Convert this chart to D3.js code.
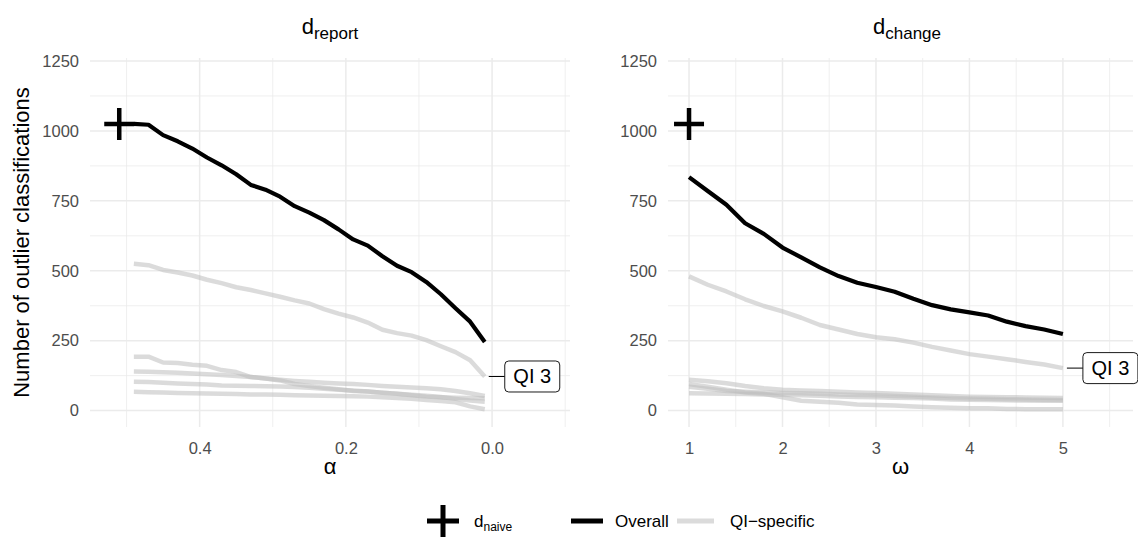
<!DOCTYPE html>
<html><head><meta charset="utf-8">
<script src="https://cdn.jsdelivr.net/npm/d3@7"></script>
<style>
body{margin:0;background:#fff}
svg{display:block}
text{font-family:"Liberation Sans",Arial,Helvetica,sans-serif}
</style>
</head><body>
<svg id="chart" width="1138" height="543"></svg>
<script>
// ---------- data ----------
const alphaValues = [0.49,0.47,0.45,0.43,0.41,0.39,0.37,0.35,0.33,0.31,0.29,0.27,0.25,0.23,0.21,0.19,0.17,0.15,0.13,0.11,0.09,0.07,0.05,0.03,0.01];
const reportOverall = [1025,1022,985,963,937,905,877,845,807,790,765,731,708,681,648,612,590,552,518,495,460,416,366,318,245];
const reportQI3 = [525,520,503,494,483,468,456,441,431,419,407,394,383,363,347,333,315,289,277,268,252,230,209,180,122];
const reportQI1 = [193,193,172,170,164,160,145,138,120,115,108,95,88,82,76,70,68,64,60,55,50,48,46,45,44];
const reportQI2 = [140,139,137,135,133,130,127,124,120,115,110,106,103,100,97,95,92,88,85,83,80,76,70,62,52];
const reportQI4 = [103,102,100,97,95,93,90,89,88,87,86,84,82,78,75,72,68,64,60,57,53,49,42,36,32];
const reportQI5 = [67,66,65,63,62,61,60,59,58,58,57,55,54,53,52,51,50,48,45,42,38,34,30,15,5];

const omegaValues = [1.0,1.2,1.4,1.6,1.8,2.0,2.2,2.4,2.6,2.8,3.0,3.2,3.4,3.6,3.8,4.0,4.2,4.4,4.6,4.8,5.0];
const changeOverall = [835,785,736,670,632,583,548,512,481,457,442,425,400,377,362,351,340,318,302,290,274];
const changeQI3 = [480,450,426,398,374,355,332,306,290,274,262,255,243,228,215,202,193,184,174,165,152];
const changeQI1 = [110,105,98,88,80,75,72,70,67,65,63,60,58,55,52,50,49,48,47,46,45];
const changeQI2 = [95,85,75,65,60,48,35,32,28,22,20,18,15,12,10,8,8,6,5,5,5];
const changeQI4 = [85,78,70,67,65,63,62,60,58,56,55,52,50,47,45,43,42,41,40,39,38];
const changeQI5 = [62,61,60,59,58,57,55,53,50,49,48,46,45,43,40,39,38,37,36,35,35];

const naiveCount = 1025;
const naiveAlpha = 0.51;
const naiveOmega = 1.0;

const yTicks = [0,250,500,750,1000,1250];
const yMinorTicks = [125,375,625,875,1125];
const alphaTicks = [0.4,0.2,0.0];
const alphaMinorTicks = [0.5,0.3,0.1,-0.1];
const omegaTicks = [1,2,3,4,5];
const omegaMinorTicks = [1.5,2.5,3.5,4.5,5.5];
const labelText = "QI 3";

// ---------- layout ----------
const svg = d3.select("#chart");
const panelTop = 58, panelBottom = 427;
const yDomain = [-58.6, 1260.7];
const GRID = "#ebebeb";
const GRAY = "#bdbdbd";
const TICK_COLOR = "#4d4d4d";

function subText(sel, main, sub, mainSize, subSize, shift) {
  sel.append("tspan").text(main).attr("font-size", mainSize);
  sel.append("tspan").text(sub).attr("font-size", subSize).attr("dy", shift);
}

function drawPanel(cfg) {
  const g = svg.append("g");
  const x = d3.scaleLinear().domain(cfg.xDomain).range([cfg.left, cfg.right]);
  const y = d3.scaleLinear().domain(yDomain).range([panelBottom, panelTop]);

  // grid
  g.selectAll(".xm").data(cfg.xMinor).join("line")
    .attr("x1", d => x(d)).attr("x2", d => x(d)).attr("y1", panelTop).attr("y2", panelBottom)
    .attr("stroke", GRID).attr("stroke-width", 0.8);
  g.selectAll(".ym").data(yMinorTicks).join("line")
    .attr("x1", cfg.left).attr("x2", cfg.right).attr("y1", d => y(d)).attr("y2", d => y(d))
    .attr("stroke", GRID).attr("stroke-width", 0.8);
  g.selectAll(".xM").data(cfg.xTicks).join("line")
    .attr("x1", d => x(d)).attr("x2", d => x(d)).attr("y1", panelTop).attr("y2", panelBottom)
    .attr("stroke", GRID).attr("stroke-width", 1.5);
  g.selectAll(".yM").data(yTicks).join("line")
    .attr("x1", cfg.left).attr("x2", cfg.right).attr("y1", d => y(d)).attr("y2", d => y(d))
    .attr("stroke", GRID).attr("stroke-width", 1.5);

  // axes
  const yAxis = g.append("g").attr("transform", `translate(${cfg.left},0)`)
    .call(d3.axisLeft(y).tickValues(yTicks).tickSize(0).tickPadding(11).tickFormat(d3.format("d")));
  const xAxis = g.append("g").attr("transform", `translate(0,${panelBottom})`)
    .call(d3.axisBottom(x).tickValues(cfg.xTicks).tickSize(0).tickPadding(15).tickFormat(cfg.fmt));
  [xAxis, yAxis].forEach(a => {
    a.select(".domain").remove();
    a.selectAll("text").attr("fill", TICK_COLOR).attr("font-size", 16.5)
      .attr("font-family", '"Liberation Sans",Arial,sans-serif');
  });

  // lines
  const line = d3.line().x(d => x(d[0])).y(d => y(d[1]));
  cfg.qi.forEach(s => {
    g.append("path").datum(cfg.xs.map((v, i) => [v, s[i]])).attr("d", line)
      .attr("fill", "none").attr("stroke", GRAY).attr("stroke-opacity", 0.55)
      .attr("stroke-width", 4.5).attr("stroke-linejoin", "round");
  });
  g.append("path").datum(cfg.xs.map((v, i) => [v, cfg.overall[i]])).attr("d", line)
    .attr("fill", "none").attr("stroke", "#000").attr("stroke-width", 4.2)
    .attr("stroke-linejoin", "round");

  // naive plus
  const px = x(cfg.naiveX), py = y(naiveCount);
  g.append("path").attr("d", `M${px-15},${py}H${px+15}M${px},${py-16}V${py+16}`)
    .attr("stroke", "#000").attr("stroke-width", 4.5).attr("fill", "none");

  // QI 3 label
  const lx = x(cfg.xs[cfg.xs.length - 1]), ly = y(cfg.labelSeries[cfg.labelSeries.length - 1]);
  g.append("line").attr("x1", lx + 4).attr("x2", lx + 20).attr("y1", ly).attr("y2", ly)
    .attr("stroke", "#000").attr("stroke-width", 1);
  const bw = 55, bh = 31;
  g.append("rect").attr("x", lx + 20).attr("y", ly - bh / 2).attr("width", bw).attr("height", bh)
    .attr("rx", 4).attr("fill", "#fff").attr("stroke", "#000").attr("stroke-width", 0.9);
  g.append("text").attr("x", lx + 20 + bw / 2).attr("y", ly + 7).attr("text-anchor", "middle")
    .attr("font-size", 20).attr("fill", "#000").text(labelText);

  // title
  const t = g.append("text").attr("x", cfg.titleX).attr("y", 34).attr("text-anchor", "middle").attr("fill", "#000");
  subText(t, "d", cfg.titleSub, 22, 17, 5);

  // x axis title
  g.append("text").attr("x", (cfg.left + cfg.right) / 2).attr("y", 474).attr("text-anchor", "middle")
    .attr("font-size", 22).attr("fill", "#000").text(cfg.xTitle);
}

drawPanel({
  left: 90, right: 570, xDomain: [0.55, -0.1066],
  xTicks: alphaTicks, xMinor: alphaMinorTicks, fmt: d3.format(".1f"),
  xs: alphaValues, overall: reportOverall,
  qi: [reportQI1, reportQI2, reportQI3, reportQI4, reportQI5], labelSeries: reportQI3,
  naiveX: naiveAlpha, titleX: 330, titleSub: "report", xTitle: "α"
});
drawPanel({
  left: 668, right: 1133, xDomain: [0.775, 5.75],
  xTicks: omegaTicks, xMinor: omegaMinorTicks, fmt: d3.format("d"),
  xs: omegaValues, overall: changeOverall,
  qi: [changeQI1, changeQI2, changeQI3, changeQI4, changeQI5], labelSeries: changeQI3,
  naiveX: naiveOmega, titleX: 907, titleSub: "change", xTitle: "ω"
});

// y axis title
svg.append("text").attr("transform", `translate(29,${(panelTop + panelBottom) / 2}) rotate(-90)`)
  .attr("text-anchor", "middle").attr("font-size", 22).attr("fill", "#000")
  .text("Number of outlier classifications");

// legend
const lg = svg.append("g");
const ly0 = 521;
const cx = 612;
lg.append("path").attr("d", `M${cx-185},${ly0}H${cx-153}M${cx-169},${ly0-16}V${ly0+16}`)
  .attr("stroke", "#000").attr("stroke-width", 5).attr("fill", "none");
const lt = lg.append("text").attr("x", cx - 138).attr("y", ly0 + 6).attr("fill", "#000");
subText(lt, "d", "naive", 17, 12, 4);
lg.append("line").attr("x1", cx - 41).attr("x2", cx - 9).attr("y1", ly0).attr("y2", ly0)
  .attr("stroke", "#000").attr("stroke-width", 5);
lg.append("text").attr("x", cx + 3).attr("y", ly0 + 6).attr("font-size", 17).attr("fill", "#000").text("Overall");
lg.append("line").attr("x1", cx + 65).attr("x2", cx + 102).attr("y1", ly0).attr("y2", ly0)
  .attr("stroke", GRAY).attr("stroke-opacity", 0.55).attr("stroke-width", 5);
lg.append("text").attr("x", cx + 118).attr("y", ly0 + 6).attr("font-size", 17).attr("fill", "#000").text("QI\u2212specific");
</script>
</body></html>
